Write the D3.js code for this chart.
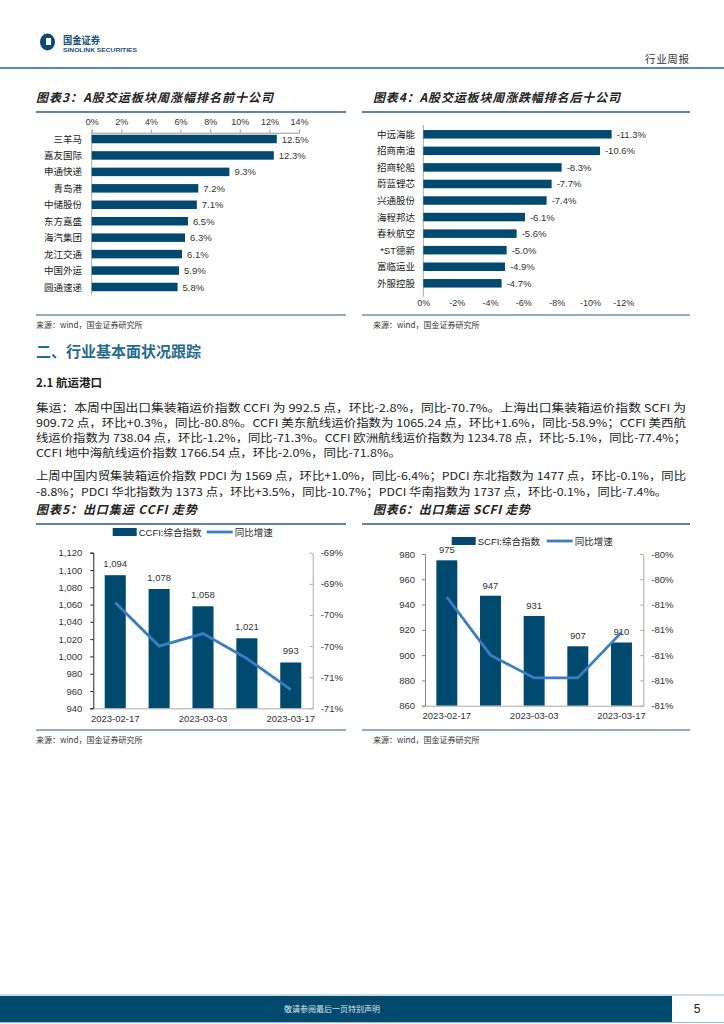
<!DOCTYPE html>
<html><head><meta charset="utf-8">
<script src="https://cdn.jsdelivr.net/npm/d3@7"></script>
<style>
body{margin:0;background:#fff;}
svg{display:block;}
text{font-family:"Liberation Sans","Noto Sans CJK SC",sans-serif;}
</style></head><body>
<svg id="page" width="724" height="1024"></svg>
<script>
// ---------- data ----------
const gainNames = ["三羊马","嘉友国际","申通快递","青岛港","中储股份","东方嘉盛","海汽集团","龙江交通","中国外运","圆通速递"];
const gainValues = [12.5,12.3,9.3,7.2,7.1,6.5,6.3,6.1,5.9,5.8];
const gainTicks = [0,2,4,6,8,10,12,14];
const lossNames = ["中远海能","招商南油","招商轮船","蔚蓝锂芯","兴通股份","海程邦达","春秋航空","*ST德新","富临运业","外服控股"];
const lossValues = [-11.3,-10.6,-8.3,-7.7,-7.4,-6.1,-5.6,-5.0,-4.9,-4.7];
const lossTicks = [0,-2,-4,-6,-8,-10,-12];
const weeks = ["2023-02-17","2023-02-24","2023-03-03","2023-03-10","2023-03-17"];
const weekLabels = ["2023-02-17","2023-03-03","2023-03-17"];
const ccfiValues = [1094,1078,1058,1021,993];
const ccfiYoY = [-69.3,-70.0,-69.8,-70.2,-70.7];
const ccfiLeftTicks = [940,960,980,1000,1020,1040,1060,1080,1100,1120];
const ccfiRightTicks = [-68.5,-69,-69.5,-70,-70.5,-71];
const ccfiRightLabels = ["-69%","-69%","-70%","-70%","-71%","-71%"];
const scfiValues = [975,947,931,907,910];
const scfiYoY = [-80.47,-80.70,-80.79,-80.79,-80.61];
const scfiLeftTicks = [860,880,900,920,940,960,980];
const scfiRightTicks = [-80.3,-80.4,-80.5,-80.6,-80.7,-80.8,-80.9];
const scfiRightLabels = ["-80%","-80%","-81%","-81%","-81%","-81%","-81%"];

const paraLines = [
 "集运：本周中国出口集装箱运价指数 CCFI 为 992.5 点，环比-2.8%，同比-70.7%。上海出口集装箱运价指数 SCFI 为",
 "909.72 点，环比+0.3%，同比-80.8%。CCFI 美东航线运价指数为 1065.24 点，环比+1.6%，同比-58.9%；CCFI 美西航",
 "线运价指数为 738.04 点，环比-1.2%，同比-71.3%。CCFI 欧洲航线运价指数为 1234.78 点，环比-5.1%，同比-77.4%；",
 "CCFI 地中海航线运价指数 1766.54 点，环比-2.0%，同比-71.8%。",
 "上周中国内贸集装箱运价指数 PDCI 为 1569 点，环比+1.0%，同比-6.4%；PDCI 东北指数为 1477 点，环比-0.1%，同比",
 "-8.8%；PDCI 华北指数为 1373 点，环比+3.5%，同比-10.7%；PDCI 华南指数为 1737 点，环比-0.1%，同比-7.4%。"
];

// ---------- styles ----------
const BAR = "#00496f";
const LINE = "#3b7cc2";
const RULE = "#2d5c7f";
const svg = d3.select("#page");

// ---------- header ----------
svg.append("ellipse").attr("cx",47.5).attr("cy",42).attr("rx",7.5).attr("ry",8.5).attr("fill","#0d4a78");
svg.append("rect").attr("x",46).attr("y",38).attr("width",5).attr("height",7).attr("fill","#fff");
svg.append("text").attr("x",63).attr("y",44).attr("font-size",10.5).attr("font-weight","bold")
  .attr("fill","#1a4f7a").attr("textLength",37).attr("lengthAdjust","spacingAndGlyphs").text("国金证券");
svg.append("text").attr("x",63).attr("y",51.5).attr("font-size",5.5).attr("font-weight","bold")
  .attr("fill","#1a4f7a").attr("textLength",74).attr("lengthAdjust","spacingAndGlyphs").text("SINOLINK SECURITIES");
svg.append("text").attr("x",645).attr("y",63).attr("font-size",10.5).attr("fill","#333")
  .attr("textLength",44).text("行业周报");
svg.append("line").attr("x1",0).attr("x2",724).attr("y1",68).attr("y2",68).attr("stroke","#5b8aa8").attr("stroke-width",2);

// ---------- helpers ----------
function title(x, y, w, str, ruleX1, ruleX2){
  svg.append("text").attr("x",x).attr("y",y).attr("font-size",12).attr("font-weight","bold")
    .attr("font-style","italic").attr("fill","#222").attr("textLength",w).attr("lengthAdjust","spacing")
    .style("font-family","'Noto Sans CJK SC',sans-serif").text(str);
  svg.append("line").attr("x1",ruleX1).attr("x2",ruleX2).attr("y1",y+10).attr("y2",y+10)
    .attr("stroke",RULE).attr("stroke-width",1.5);
}
function source(x, y, ruleX1, ruleX2){
  svg.append("line").attr("x1",ruleX1).attr("x2",ruleX2).attr("y1",y).attr("y2",y)
    .attr("stroke",RULE).attr("stroke-width",1.2);
  svg.append("text").attr("x",x).attr("y",y+13).attr("font-size",8).attr("fill","#333")
    .style("font-family","'Noto Sans CJK SC',sans-serif").text("来源：wind，国金证券研究所");
}

function rankChart(o){
  const g = svg.append("g");
  const x = d3.scaleLinear().domain(o.domain).range([o.x0,o.x1]);
  const y = d3.scalePoint().domain(o.names).range([o.yc0,o.yc1]);
  const bh = 8.5;
  // axis
  const ax = o.top ? d3.axisTop(x) : d3.axisBottom(x);
  ax.tickValues(o.ticks).tickFormat(d=>d+"%").tickSize(o.top?3:0).tickPadding(o.top?5:3);
  const axg = g.append("g").attr("transform",`translate(0,${o.axisY})`).call(ax);
  axg.select(".domain").attr("stroke",o.top?"#999":"none");
  axg.selectAll(".tick line").attr("stroke","#999");
  axg.selectAll("text").attr("font-size",9).attr("fill","#333").style("font-family","'Liberation Sans',sans-serif");
  g.append("line").attr("x1",o.x0).attr("x2",o.x0).attr("y1",o.vy0).attr("y2",o.vy1).attr("stroke","#aaa");
  // bars
  g.selectAll("rect.b").data(o.values).join("rect").attr("class","b")
    .attr("x",d=>Math.min(x(0),x(d))).attr("width",d=>Math.abs(x(d)-x(0)))
    .attr("y",(d,i)=>y(o.names[i])-bh/2).attr("height",bh).attr("fill",BAR);
  g.selectAll("text.v").data(o.values).join("text").attr("class","v")
    .attr("x",d=>x(d)+5).attr("y",(d,i)=>y(o.names[i])+3.5)
    .attr("font-size",9.5).attr("fill","#333").text(d=>d.toFixed(1)+"%");
  g.selectAll("text.c").data(o.names).join("text").attr("class","c")
    .attr("x",o.labelX).attr("y",d=>y(d)+3.5).attr("text-anchor","end")
    .attr("font-size",9.5).attr("fill","#222").text(d=>d);
}

function comboChart(o){
  const g = svg.append("g");
  const x = d3.scaleBand().domain(weeks).range([o.x0,o.x1]).paddingInner(0.52).paddingOuter(0.26);
  const yl = d3.scaleLinear().domain([o.leftTicks[0],o.leftTicks[o.leftTicks.length-1]]).range([o.yb,o.yt]);
  const yr = d3.scaleLinear().domain([o.rightTicks[o.rightTicks.length-1],o.rightTicks[0]]).range([o.yb,o.yt]);
  // bars
  g.selectAll("rect.b").data(o.values).join("rect").attr("class","b")
    .attr("x",(d,i)=>x(weeks[i])).attr("width",x.bandwidth())
    .attr("y",d=>yl(d)).attr("height",d=>o.yb-yl(d)).attr("fill",BAR);
  g.selectAll("text.v").data(o.values).join("text").attr("class","v")
    .attr("x",(d,i)=>x(weeks[i])+x.bandwidth()/2).attr("y",d=>yl(d)-o.labelGap)
    .attr("text-anchor","middle").attr("font-size",9.5).attr("fill","#333").text(d=>d3.format(",")(d));
  // line
  const line = d3.line().x((d,i)=>x(weeks[i])+x.bandwidth()/2).y(d=>yr(d));
  g.append("path").datum(o.yoy).attr("d",line).attr("fill","none").attr("stroke",LINE).attr("stroke-width",2.8);
  // left axis
  const la = g.append("g").attr("transform",`translate(${o.x0},0)`)
    .call(d3.axisLeft(yl).tickValues(o.leftTicks).tickFormat(d3.format(",")).tickSize(3).tickPadding(o.lpad));
  la.select(".domain").attr("stroke",o.leftColor);
  la.selectAll(".tick line").attr("stroke",o.leftColor);
  la.selectAll("text").attr("font-size",9.5).attr("fill","#333").style("font-family","'Liberation Sans',sans-serif");
  // right axis
  const ra = g.append("g").attr("transform",`translate(${o.x1},0)`)
    .call(d3.axisRight(yr).tickValues(o.rightTicks).tickFormat((d,i)=>o.rightLabels[i]).tickSizeInner(-3).tickSizeOuter(0).tickPadding(8));
  ra.select(".domain").attr("stroke","#aaa");
  ra.selectAll(".tick line").attr("stroke","#aaa");
  ra.selectAll("text").attr("font-size",9.5).attr("fill","#333").style("font-family","'Liberation Sans',sans-serif");
  // bottom axis
  const ba = g.append("g").attr("transform",`translate(0,${o.yb})`)
    .call(d3.axisBottom(x).tickValues(weekLabels).tickSize(0).tickPadding(o.bpad));
  ba.select(".domain").attr("stroke","#aaa");
  ba.selectAll("text").attr("font-size",9.5).attr("fill","#333").style("font-family","'Liberation Sans',sans-serif");
  // legend
  const lg = g.append("g");
  lg.append("rect").attr("x",o.legX).attr("y",o.legY-4).attr("width",24).attr("height",8).attr("fill",BAR);
  lg.append("text").attr("x",o.legX+26).attr("y",o.legY+3.5).attr("font-size",9.5).attr("fill","#222").text(o.barName);
  lg.append("line").attr("x1",o.legX2).attr("x2",o.legX2+26).attr("y1",o.legY).attr("y2",o.legY)
    .attr("stroke",LINE).attr("stroke-width",2.8);
  lg.append("text").attr("x",o.legX2+28).attr("y",o.legY+3.5).attr("font-size",9.5).attr("fill","#222").text("同比增速");
}

// ---------- chart 3 ----------
title(36, 102, 237, "图表3：A股交运板块周涨幅排名前十公司", 36, 346);
rankChart({names:gainNames, values:gainValues, ticks:gainTicks, domain:[0,14], x0:91.7, x1:299,
  yc0:139, yc1:287, top:true, axisY:132.7, vy0:132.7, vy1:295, labelX:82});
source(36, 315, 36, 346);

// ---------- chart 4 ----------
title(373, 102, 247, "图表4：A股交运板块周涨跌幅排名后十公司", 362, 690);
rankChart({names:lossNames, values:lossValues, ticks:lossTicks, domain:[0,-12], x0:423.3, x1:623.3,
  yc0:134.3, yc1:283.3, top:false, axisY:296.7, vy0:125, vy1:296.7, labelX:415});
source(373, 315, 362, 690);

// ---------- text section ----------
svg.append("text").attr("x",36).attr("y",357).attr("font-size",15).attr("font-weight","bold")
  .attr("fill","#276a8f").style("font-family","'Noto Sans CJK SC',sans-serif").text("二、行业基本面状况跟踪");
svg.append("text").attr("x",36).attr("y",386.5).attr("font-size",11.5).attr("font-weight","bold")
  .attr("fill","#222").style("font-family","'Noto Sans CJK SC',sans-serif").text("2.1 航运港口");
const lineYs = [411.5,426.8,442,457.3,480.3,495.6];
const lineWs = [650,650,650,365,650,631];
svg.selectAll("text.p").data(paraLines).join("text").attr("class","p")
  .attr("x",36).attr("y",(d,i)=>lineYs[i]).attr("font-size",11).attr("fill","#222")
  .attr("textLength",(d,i)=>lineWs[i]).attr("lengthAdjust","spacingAndGlyphs")
  .style("font-family","'Noto Sans CJK SC',sans-serif").text(d=>d);

// ---------- chart 5 ----------
title(36, 514, 161, "图表5：出口集运 CCFI 走势", 36, 346);
comboChart({values:ccfiValues, yoy:ccfiYoY, leftTicks:ccfiLeftTicks, rightTicks:ccfiRightTicks,
  rightLabels:ccfiRightLabels, x0:93.3, x1:312.7, yt:552.7, yb:708.3, labelGap:8, lpad:8, bpad:7,
  leftColor:"#222", legX:112.7, legX2:206.7, legY:532, barName:"CCFI:综合指数"});
source(36, 730, 36, 346);

// ---------- chart 6 ----------
title(373, 514, 157, "图表6：出口集运 SCFI 走势", 362, 690);
comboChart({values:scfiValues, yoy:scfiYoY, leftTicks:scfiLeftTicks, rightTicks:scfiRightTicks,
  rightLabels:scfiRightLabels, x0:425, x1:643.3, yt:554, yb:705.7, labelGap:7, lpad:7, bpad:7,
  leftColor:"#888", legX:451.7, legX2:546.7, legY:541, barName:"SCFI:综合指数"});
source(373, 730, 362, 690);

// ---------- footer ----------
svg.append("line").attr("x1",0).attr("x2",724).attr("y1",995).attr("y2",995).attr("stroke","#9bbbd0").attr("stroke-width",1);
svg.append("rect").attr("x",0).attr("y",996).attr("width",672).attr("height",26).attr("fill","#004a6f");
svg.append("line").attr("x1",0).attr("x2",724).attr("y1",1022.5).attr("y2",1022.5).attr("stroke","#9bbbd0").attr("stroke-width",1);
svg.append("text").attr("x",332).attr("y",1012).attr("text-anchor","middle").attr("font-size",8)
  .attr("fill","#dde6ee").style("font-family","'Noto Sans CJK SC',sans-serif").text("敬请参阅最后一页特别声明");
svg.append("text").attr("x",697).attr("y",1013).attr("text-anchor","middle").attr("font-size",12)
  .attr("fill","#222").text("5");
</script>
</body></html>
